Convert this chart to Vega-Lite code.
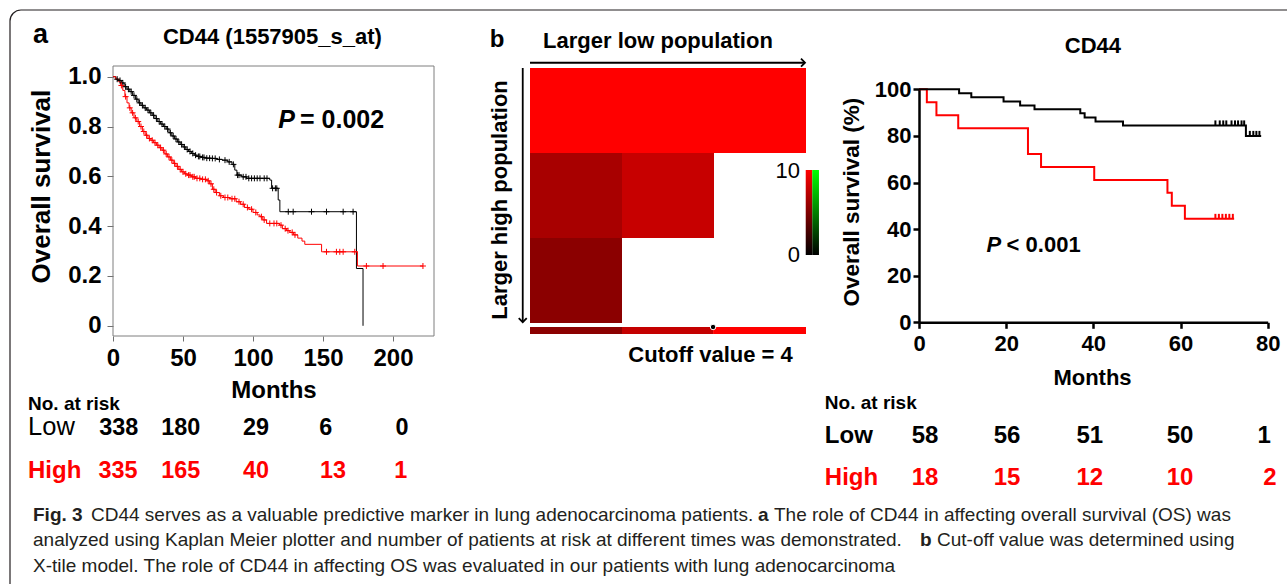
{
  "$schema": "https://vega.github.io/schema/vega-lite/v6.json",
  "width": 1287,
  "height": 584,
  "autosize": {"type": "none"},
  "padding": 0,
  "background": "white",
  "config": {"view": {"stroke": null}, "font": "Liberation Sans"},
  "datasets": {
    "kmA": [
      {"t":0,"s":1,"g":"Low"},{"t":2,"s":0.99,"g":"Low"},{"t":4,"s":0.985,"g":"Low"},{"t":6,"s":0.975,"g":"Low"},{"t":8,"s":0.96,"g":"Low"},{"t":10,"s":0.95,"g":"Low"},{"t":12,"s":0.94,"g":"Low"},{"t":14,"s":0.925,"g":"Low"},{"t":16,"s":0.91,"g":"Low"},{"t":18,"s":0.895,"g":"Low"},{"t":20,"s":0.885,"g":"Low"},{"t":22,"s":0.875,"g":"Low"},{"t":24,"s":0.866,"g":"Low"},{"t":26,"s":0.855,"g":"Low"},{"t":28,"s":0.845,"g":"Low"},{"t":30,"s":0.832,"g":"Low"},{"t":32,"s":0.82,"g":"Low"},{"t":34,"s":0.81,"g":"Low"},{"t":36,"s":0.8,"g":"Low"},{"t":38,"s":0.79,"g":"Low"},{"t":40,"s":0.775,"g":"Low"},{"t":42,"s":0.762,"g":"Low"},{"t":44,"s":0.75,"g":"Low"},{"t":46,"s":0.738,"g":"Low"},{"t":48,"s":0.728,"g":"Low"},{"t":50,"s":0.718,"g":"Low"},{"t":52,"s":0.708,"g":"Low"},{"t":54,"s":0.7,"g":"Low"},{"t":56,"s":0.692,"g":"Low"},{"t":58,"s":0.685,"g":"Low"},{"t":60,"s":0.68,"g":"Low"},{"t":63,"s":0.676,"g":"Low"},{"t":66,"s":0.673,"g":"Low"},{"t":70,"s":0.672,"g":"Low"},{"t":74,"s":0.668,"g":"Low"},{"t":78,"s":0.665,"g":"Low"},{"t":82,"s":0.658,"g":"Low"},{"t":85,"s":0.648,"g":"Low"},{"t":87,"s":0.625,"g":"Low"},{"t":88.5,"s":0.605,"g":"Low"},{"t":92,"s":0.598,"g":"Low"},{"t":95.5,"s":0.592,"g":"Low"},{"t":112,"s":0.585,"g":"Low"},{"t":113.3,"s":0.552,"g":"Low"},{"t":118,"s":0.505,"g":"Low"},{"t":119.2,"s":0.458,"g":"Low"},{"t":173.9,"s":0.23,"g":"Low"},{"t":178.6,"s":0,"g":"Low"},
      {"t":0,"s":1,"g":"High"},{"t":2,"s":0.99,"g":"High"},{"t":4,"s":0.98,"g":"High"},{"t":5.5,"s":0.965,"g":"High"},{"t":7,"s":0.945,"g":"High"},{"t":8.5,"s":0.92,"g":"High"},{"t":10,"s":0.895,"g":"High"},{"t":11.5,"s":0.875,"g":"High"},{"t":13,"s":0.855,"g":"High"},{"t":15,"s":0.835,"g":"High"},{"t":17,"s":0.82,"g":"High"},{"t":19,"s":0.8,"g":"High"},{"t":21,"s":0.78,"g":"High"},{"t":23,"s":0.765,"g":"High"},{"t":25,"s":0.752,"g":"High"},{"t":27,"s":0.745,"g":"High"},{"t":29,"s":0.735,"g":"High"},{"t":31,"s":0.725,"g":"High"},{"t":33,"s":0.715,"g":"High"},{"t":35,"s":0.705,"g":"High"},{"t":37,"s":0.69,"g":"High"},{"t":39,"s":0.678,"g":"High"},{"t":41,"s":0.665,"g":"High"},{"t":43,"s":0.652,"g":"High"},{"t":45,"s":0.64,"g":"High"},{"t":47,"s":0.628,"g":"High"},{"t":49,"s":0.618,"g":"High"},{"t":51,"s":0.61,"g":"High"},{"t":53,"s":0.605,"g":"High"},{"t":56,"s":0.598,"g":"High"},{"t":59,"s":0.592,"g":"High"},{"t":63,"s":0.588,"g":"High"},{"t":67,"s":0.582,"g":"High"},{"t":69,"s":0.57,"g":"High"},{"t":71,"s":0.548,"g":"High"},{"t":73,"s":0.535,"g":"High"},{"t":76,"s":0.522,"g":"High"},{"t":79,"s":0.515,"g":"High"},{"t":83,"s":0.51,"g":"High"},{"t":88,"s":0.498,"g":"High"},{"t":91,"s":0.488,"g":"High"},{"t":94,"s":0.475,"g":"High"},{"t":97,"s":0.468,"g":"High"},{"t":100,"s":0.455,"g":"High"},{"t":103,"s":0.445,"g":"High"},{"t":105,"s":0.438,"g":"High"},{"t":107,"s":0.425,"g":"High"},{"t":109.7,"s":0.411,"g":"High"},{"t":119,"s":0.404,"g":"High"},{"t":121,"s":0.39,"g":"High"},{"t":124,"s":0.382,"g":"High"},{"t":126.3,"s":0.375,"g":"High"},{"t":129,"s":0.365,"g":"High"},{"t":132,"s":0.352,"g":"High"},{"t":135,"s":0.34,"g":"High"},{"t":137,"s":0.327,"g":"High"},{"t":149,"s":0.297,"g":"High"},{"t":174.6,"s":0.24,"g":"High"},{"t":221.4,"s":0.24,"g":"High"}
    ],
    "censA": [
      {"t":3,"s":0.99,"g":"Low"},{"t":5,"s":0.985,"g":"Low"},{"t":7,"s":0.975,"g":"Low"},{"t":9,"s":0.96,"g":"Low"},{"t":11,"s":0.95,"g":"Low"},{"t":13,"s":0.94,"g":"Low"},{"t":15,"s":0.925,"g":"Low"},{"t":17,"s":0.91,"g":"Low"},{"t":19,"s":0.895,"g":"Low"},{"t":21,"s":0.885,"g":"Low"},{"t":23,"s":0.875,"g":"Low"},{"t":25,"s":0.866,"g":"Low"},{"t":27,"s":0.855,"g":"Low"},{"t":29,"s":0.845,"g":"Low"},{"t":31,"s":0.832,"g":"Low"},{"t":33,"s":0.82,"g":"Low"},{"t":35,"s":0.81,"g":"Low"},{"t":37,"s":0.8,"g":"Low"},{"t":39,"s":0.79,"g":"Low"},{"t":41,"s":0.775,"g":"Low"},{"t":43,"s":0.762,"g":"Low"},{"t":45,"s":0.75,"g":"Low"},{"t":47,"s":0.738,"g":"Low"},{"t":49,"s":0.728,"g":"Low"},{"t":51,"s":0.718,"g":"Low"},{"t":53,"s":0.708,"g":"Low"},{"t":55,"s":0.7,"g":"Low"},{"t":57,"s":0.692,"g":"Low"},{"t":59,"s":0.685,"g":"Low"},{"t":61,"s":0.68,"g":"Low"},{"t":62,"s":0.68,"g":"Low"},{"t":64,"s":0.676,"g":"Low"},{"t":65,"s":0.676,"g":"Low"},{"t":67,"s":0.673,"g":"Low"},{"t":69,"s":0.673,"g":"Low"},{"t":71,"s":0.672,"g":"Low"},{"t":73,"s":0.672,"g":"Low"},{"t":76,"s":0.668,"g":"Low"},{"t":80,"s":0.665,"g":"Low"},{"t":83,"s":0.658,"g":"Low"},{"t":86,"s":0.648,"g":"Low"},{"t":89,"s":0.605,"g":"Low"},{"t":90,"s":0.605,"g":"Low"},{"t":93,"s":0.598,"g":"Low"},{"t":95,"s":0.598,"g":"Low"},{"t":97,"s":0.592,"g":"Low"},{"t":99,"s":0.592,"g":"Low"},{"t":101,"s":0.592,"g":"Low"},{"t":103,"s":0.592,"g":"Low"},{"t":105,"s":0.592,"g":"Low"},{"t":108,"s":0.592,"g":"Low"},{"t":110,"s":0.592,"g":"Low"},{"t":114,"s":0.552,"g":"Low"},{"t":116,"s":0.552,"g":"Low"},{"t":117,"s":0.552,"g":"Low"},{"t":125.2,"s":0.458,"g":"Low"},{"t":128.7,"s":0.458,"g":"Low"},{"t":141.8,"s":0.458,"g":"Low"},{"t":152.5,"s":0.458,"g":"Low"},{"t":164.4,"s":0.458,"g":"Low"},{"t":171.5,"s":0.458,"g":"Low"},
      {"t":6,"s":0.965,"g":"High"},{"t":9,"s":0.92,"g":"High"},{"t":12,"s":0.875,"g":"High"},{"t":14,"s":0.855,"g":"High"},{"t":16,"s":0.835,"g":"High"},{"t":18,"s":0.82,"g":"High"},{"t":20,"s":0.8,"g":"High"},{"t":22,"s":0.78,"g":"High"},{"t":24,"s":0.765,"g":"High"},{"t":26,"s":0.752,"g":"High"},{"t":28,"s":0.745,"g":"High"},{"t":30,"s":0.735,"g":"High"},{"t":32,"s":0.725,"g":"High"},{"t":34,"s":0.715,"g":"High"},{"t":36,"s":0.705,"g":"High"},{"t":38,"s":0.69,"g":"High"},{"t":40,"s":0.678,"g":"High"},{"t":42,"s":0.665,"g":"High"},{"t":44,"s":0.652,"g":"High"},{"t":46,"s":0.64,"g":"High"},{"t":48,"s":0.628,"g":"High"},{"t":50,"s":0.618,"g":"High"},{"t":52,"s":0.61,"g":"High"},{"t":54,"s":0.605,"g":"High"},{"t":55,"s":0.605,"g":"High"},{"t":57,"s":0.598,"g":"High"},{"t":58,"s":0.598,"g":"High"},{"t":60,"s":0.592,"g":"High"},{"t":62,"s":0.592,"g":"High"},{"t":64,"s":0.588,"g":"High"},{"t":66,"s":0.588,"g":"High"},{"t":68,"s":0.582,"g":"High"},{"t":70,"s":0.57,"g":"High"},{"t":72,"s":0.548,"g":"High"},{"t":74,"s":0.535,"g":"High"},{"t":77,"s":0.522,"g":"High"},{"t":80,"s":0.515,"g":"High"},{"t":82,"s":0.515,"g":"High"},{"t":85,"s":0.51,"g":"High"},{"t":87,"s":0.51,"g":"High"},{"t":90,"s":0.498,"g":"High"},{"t":93,"s":0.488,"g":"High"},{"t":96,"s":0.475,"g":"High"},{"t":99,"s":0.468,"g":"High"},{"t":102,"s":0.455,"g":"High"},{"t":106,"s":0.438,"g":"High"},{"t":108,"s":0.425,"g":"High"},{"t":112,"s":0.411,"g":"High"},{"t":115,"s":0.411,"g":"High"},{"t":117,"s":0.411,"g":"High"},{"t":120,"s":0.404,"g":"High"},{"t":123,"s":0.39,"g":"High"},{"t":125,"s":0.382,"g":"High"},{"t":128,"s":0.375,"g":"High"},{"t":130,"s":0.365,"g":"High"},{"t":152.5,"s":0.297,"g":"High"},{"t":159.6,"s":0.297,"g":"High"},{"t":162,"s":0.297,"g":"High"},{"t":164.4,"s":0.297,"g":"High"},{"t":172.7,"s":0.297,"g":"High"},{"t":181,"s":0.24,"g":"High"},{"t":192.9,"s":0.24,"g":"High"},{"t":221.4,"s":0.24,"g":"High"}
    ],
    "riskA": [
      {"t":4.1,"s":-0.438,"n":"338","g":"Low"},{"t":48.4,"s":-0.438,"n":"180","g":"Low"},{"t":102.1,"s":-0.438,"n":"29","g":"Low"},{"t":151.9,"s":-0.438,"n":"6","g":"Low"},{"t":206.4,"s":-0.438,"n":"0","g":"Low"},
      {"t":3.6,"s":-0.611,"n":"335","g":"High"},{"t":48.4,"s":-0.611,"n":"165","g":"High"},{"t":102.1,"s":-0.611,"n":"40","g":"High"},{"t":157.1,"s":-0.611,"n":"13","g":"High"},{"t":205.6,"s":-0.611,"n":"1","g":"High"}
    ],
    "kmC": [
      {"t":0,"s":100,"g":"High"},{"t":1.8,"s":94.4,"g":"High"},{"t":4,"s":88.9,"g":"High"},{"t":9,"s":83.3,"g":"High"},{"t":25,"s":72.2,"g":"High"},{"t":28,"s":66.7,"g":"High"},{"t":40.2,"s":61.1,"g":"High"},{"t":57,"s":55.6,"g":"High"},{"t":58,"s":50,"g":"High"},{"t":61,"s":44.4,"g":"High"},{"t":72.3,"s":44.4,"g":"High"},
      {"t":0,"s":100,"g":"Low"},{"t":9.2,"s":98.3,"g":"Low"},{"t":12,"s":96.6,"g":"Low"},{"t":19.4,"s":94.8,"g":"Low"},{"t":23.2,"s":93.1,"g":"Low"},{"t":26.5,"s":91.4,"g":"Low"},{"t":37,"s":89.7,"g":"Low"},{"t":38,"s":87.9,"g":"Low"},{"t":40.5,"s":86.2,"g":"Low"},{"t":46.8,"s":84.5,"g":"Low"},{"t":75,"s":80,"g":"Low"},{"t":78.5,"s":80,"g":"Low"}
    ],
    "censC": [
      {"t":68,"s":44.4,"g":"High"},{"t":68.8,"s":44.4,"g":"High"},{"t":69.6,"s":44.4,"g":"High"},{"t":70.4,"s":44.4,"g":"High"},{"t":71.2,"s":44.4,"g":"High"},{"t":72,"s":44.4,"g":"High"},
      {"t":68,"s":84.5,"g":"Low"},{"t":69,"s":84.5,"g":"Low"},{"t":69.8,"s":84.5,"g":"Low"},{"t":70.5,"s":84.5,"g":"Low"},{"t":71.7,"s":84.5,"g":"Low"},{"t":72.5,"s":84.5,"g":"Low"},{"t":73.2,"s":84.5,"g":"Low"},{"t":74,"s":84.5,"g":"Low"},{"t":74.6,"s":84.5,"g":"Low"},{"t":75.9,"s":80,"g":"Low"},{"t":76.7,"s":80,"g":"Low"},{"t":77.4,"s":80,"g":"Low"},{"t":78.1,"s":80,"g":"Low"}
    ],
    "riskC": [
      {"t":1.4,"s":-51.8,"n":"58","g":"Low"},{"t":20.2,"s":-51.8,"n":"56","g":"Low"},{"t":39.2,"s":-51.8,"n":"51","g":"Low"},{"t":59.9,"s":-51.8,"n":"50","g":"Low"},{"t":79.2,"s":-51.8,"n":"1","g":"Low"},
      {"t":1.4,"s":-69.8,"n":"18","g":"High"},{"t":20.2,"s":-69.8,"n":"15","g":"High"},{"t":39.2,"s":-69.8,"n":"12","g":"High"},{"t":59.9,"s":-69.8,"n":"10","g":"High"},{"t":80.5,"s":-69.8,"n":"2","g":"High"}
    ],
    "heat": [
      {"c":0,"c2":1,"r":0,"r2":1,"v":10},{"c":1,"c2":2,"r":0,"r2":1,"v":10},{"c":2,"c2":3,"r":0,"r2":1,"v":10},
      {"c":0,"c2":1,"r":1,"r2":2,"v":6.6},{"c":1,"c2":2,"r":1,"r2":2,"v":7.8},
      {"c":0,"c2":1,"r":2,"r2":3,"v":5.45},
      {"c":0,"c2":1,"r":3.047,"r2":3.13,"v":5.45},{"c":1,"c2":1.99,"r":3.047,"r2":3.13,"v":7.7},{"c":1.99,"c2":3,"r":3.047,"r2":3.13,"v":10}
    ]
  },
  "resolve": {
    "scale": {"x": "independent", "y": "independent", "color": "independent"},
    "axis": {"x": "independent", "y": "independent"}
  },
  "layer": [
    {
      "encoding": {
        "x": {"field": "fx", "type": "quantitative", "scale": {"domain": [0, 1], "range": [10, 1300], "nice": false, "zero": false}, "axis": null},
        "y": {"field": "fy", "type": "quantitative", "scale": {"domain": [0, 1], "range": [10, 600], "nice": false, "zero": false}, "axis": null}
      },
      "layer": [
        {
          "data": {"values": [{"fx": 0, "fy": 0, "fx2": 1, "fy2": 1}]},
          "mark": {"type": "rect", "filled": false, "color": "#231f20", "strokeWidth": 1.2, "cornerRadius": 11},
          "encoding": {"x2": {"field": "fx2"}, "y2": {"field": "fy2"}}
        },
        {
          "data": {"values": [
            {"fx": 0.06279, "fy": 0.8653, "label": "CD44 serves as a valuable predictive marker in lung adenocarcinoma patients."},
            {"fx": 0.59225, "fy": 0.8653, "label": "The role of CD44 in affecting overall survival (OS) was"},
            {"fx": 0.01783, "fy": 0.9085, "label": "analyzed using Kaplan Meier plotter and number of patients at risk at different times was demonstrated."},
            {"fx": 0.71860, "fy": 0.9085, "label": "Cut-off value was determined using"},
            {"fx": 0.01783, "fy": 0.9517, "label": "X-tile model. The role of CD44 in affecting OS was evaluated in our patients with lung adenocarcinoma"}
          ]},
          "mark": {"type": "text", "align": "left", "baseline": "alphabetic", "fontSize": 19, "color": "#231f20"},
          "encoding": {"text": {"field": "label"}}
        },
        {
          "data": {"values": [
            {"fx": 0.01783, "fy": 0.8653, "label": "Fig. 3"},
            {"fx": 0.57984, "fy": 0.8653, "label": "a"},
            {"fx": 0.70543, "fy": 0.9085, "label": "b"}
          ]},
          "mark": {"type": "text", "align": "left", "baseline": "alphabetic", "fontSize": 19, "fontWeight": "bold", "color": "#231f20"},
          "encoding": {"text": {"field": "label"}}
        }
      ]
    },
    {
      "encoding": {
        "x": {"field": "t", "type": "quantitative",
              "scale": {"domain": [0, 229.3], "range": [113, 434], "nice": false, "zero": false},
              "axis": {"orient": "bottom", "offset": -248, "values": [0, 50, 100, 150, 200], "domain": false, "grid": false, "tickSize": 5, "tickColor": "#6f6f6f", "tickWidth": 1, "labelFontSize": 24, "labelFontWeight": "bold", "labelColor": "#000000", "labelPadding": 5, "labelFlush": false, "labelOverlap": false, "title": null}},
        "y": {"field": "s", "type": "quantitative",
              "scale": {"domain": [-0.041, 1.043], "range": [336, 66], "nice": false, "zero": false},
              "axis": {"orient": "left", "offset": -113, "values": [0, 0.2, 0.4, 0.6, 0.8, 1], "labelExpr": "datum.value == 0 ? '0' : format(datum.value, '.1f')", "domain": false, "grid": false, "tickSize": 6, "tickColor": "#6f6f6f", "tickWidth": 1, "labelFontSize": 24, "labelFontWeight": "bold", "labelColor": "#000000", "labelPadding": 6, "labelFlush": false, "labelOverlap": false, "title": null}}
      },
      "layer": [
        {
          "data": {"values": [{"t": 0, "s": -0.041, "t2": 229.3, "s2": 1.043}]},
          "mark": {"type": "rect", "filled": false, "color": "#7f7f7f", "strokeWidth": 1},
          "encoding": {"x2": {"field": "t2"}, "y2": {"field": "s2"}}
        },
        {
          "data": {"name": "kmA"},
          "mark": {"type": "line", "interpolate": "step-after", "strokeWidth": 1},
          "encoding": {"color": {"field": "g", "type": "nominal", "scale": {"domain": ["Low", "High"], "range": ["#000000", "#ff0000"]}, "legend": null}}
        },
        {
          "data": {"name": "censA"},
          "mark": {"type": "point", "shape": "M-1,0H1M0,-1V1", "filled": false, "size": 36, "strokeWidth": 1, "opacity": 1},
          "encoding": {"color": {"field": "g", "type": "nominal", "scale": {"domain": ["Low", "High"], "range": ["#000000", "#ff0000"]}, "legend": null}}
        },
        {
          "data": {"name": "riskA"},
          "mark": {"type": "text", "align": "center", "baseline": "alphabetic", "fontSize": 23.4, "fontWeight": "bold"},
          "encoding": {"text": {"field": "n"}, "color": {"field": "g", "type": "nominal", "scale": {"domain": ["Low", "High"], "range": ["#000000", "#ff0000"]}, "legend": null}}
        },
        {
          "data": {"values": [{"t": -51.8, "s": 1.135, "label": "a"}]},
          "mark": {"type": "text", "align": "center", "baseline": "alphabetic", "fontSize": 27, "fontWeight": "bold", "color": "#000000"},
          "encoding": {"text": {"field": "label"}}
        },
        {
          "data": {"values": [{"t": 113.9, "s": 1.131, "label": "CD44 (1557905_s_at)"}]},
          "mark": {"type": "text", "align": "center", "baseline": "alphabetic", "fontSize": 22, "fontWeight": "bold", "color": "#000000"},
          "encoding": {"text": {"field": "label"}}
        },
        {
          "data": {"values": [{"t": 118.1, "s": 0.793, "label": "P"}]},
          "mark": {"type": "text", "align": "left", "baseline": "alphabetic", "fontSize": 25, "fontWeight": "bold", "fontStyle": "italic", "color": "#000000"},
          "encoding": {"text": {"field": "label"}}
        },
        {
          "data": {"values": [{"t": 133.6, "s": 0.793, "label": "= 0.002"}]},
          "mark": {"type": "text", "align": "left", "baseline": "alphabetic", "fontSize": 25, "fontWeight": "bold", "color": "#000000"},
          "encoding": {"text": {"field": "label"}}
        },
        {
          "data": {"values": [{"t": -45, "s": 0.559, "label": "Overall survival"}]},
          "mark": {"type": "text", "align": "center", "baseline": "alphabetic", "angle": 270, "fontSize": 26, "fontWeight": "bold", "color": "#000000"},
          "encoding": {"text": {"field": "label"}}
        },
        {
          "data": {"values": [{"t": 115, "s": -0.29, "label": "Months"}]},
          "mark": {"type": "text", "align": "center", "baseline": "alphabetic", "fontSize": 24, "fontWeight": "bold", "color": "#000000"},
          "encoding": {"text": {"field": "label"}}
        },
        {
          "data": {"values": [{"t": -60.7, "s": -0.338, "label": "No. at risk"}]},
          "mark": {"type": "text", "align": "left", "baseline": "alphabetic", "fontSize": 19, "fontWeight": "bold", "color": "#000000"},
          "encoding": {"text": {"field": "label"}}
        },
        {
          "data": {"values": [{"t": -60.7, "s": -0.438, "label": "Low"}]},
          "mark": {"type": "text", "align": "left", "baseline": "alphabetic", "fontSize": 25.5, "color": "#000000"},
          "encoding": {"text": {"field": "label"}}
        },
        {
          "data": {"values": [{"t": -60.7, "s": -0.611, "label": "High"}]},
          "mark": {"type": "text", "align": "left", "baseline": "alphabetic", "fontSize": 24, "fontWeight": "bold", "color": "#ff0000"},
          "encoding": {"text": {"field": "label"}}
        }
      ]
    },
    {
      "encoding": {
        "x": {"field": "c", "type": "quantitative", "scale": {"domain": [0, 3], "range": [530, 806], "nice": false, "zero": false}, "axis": null},
        "y": {"field": "r", "type": "quantitative", "scale": {"domain": [0, 3], "range": [68, 323], "nice": false, "zero": false}, "axis": null}
      },
      "layer": [
        {
          "data": {"name": "heat"},
          "mark": {"type": "rect"},
          "encoding": {
            "x2": {"field": "c2"},
            "y2": {"field": "r2"},
            "color": {"field": "v", "type": "quantitative", "scale": {"domain": [0, 10], "range": ["#000000", "#ff0000"], "interpolate": "rgb"}, "legend": null}
          }
        },
        {
          "data": {"values": [{"c": 2.997, "c2": 3.068, "r": 1.2, "r2": 2.2}]},
          "mark": {"type": "rect", "fill": {"gradient": "linear", "x1": 0, "y1": 0, "x2": 0, "y2": 1, "stops": [{"offset": 0, "color": "#ff0000"}, {"offset": 1, "color": "#000000"}]}},
          "encoding": {"x2": {"field": "c2"}, "y2": {"field": "r2"}}
        },
        {
          "data": {"values": [{"c": 3.068, "c2": 3.141, "r": 1.2, "r2": 2.2}]},
          "mark": {"type": "rect", "fill": {"gradient": "linear", "x1": 0, "y1": 0, "x2": 0, "y2": 1, "stops": [{"offset": 0, "color": "#00ff00"}, {"offset": 1, "color": "#000000"}]}},
          "encoding": {"x2": {"field": "c2"}, "y2": {"field": "r2"}}
        },
        {
          "data": {"values": [{"c": 1.99, "r": 3.047}]},
          "mark": {"type": "point", "filled": true, "color": "#000000", "stroke": "#ffffff", "strokeWidth": 1, "size": 30, "opacity": 1}
        },
        {
          "data": {"values": [{"c": 0, "c2": 2.989, "r": -0.062}]},
          "mark": {"type": "rule", "color": "#000000", "strokeWidth": 1.8},
          "encoding": {"x2": {"field": "c2"}}
        },
        {
          "data": {"values": [{"c": -0.079, "r": 0, "r2": 2.99}]},
          "mark": {"type": "rule", "color": "#000000", "strokeWidth": 1.8},
          "encoding": {"y2": {"field": "r2"}}
        },
        {
          "data": {"values": [{"c": 2.989, "r": -0.062}]},
          "mark": {"type": "point", "shape": "M-1,-1L0,0L-1,1", "filled": false, "color": "#000000", "strokeWidth": 1.8, "size": 64, "opacity": 1}
        },
        {
          "data": {"values": [{"c": -0.079, "r": 2.99}]},
          "mark": {"type": "point", "shape": "M-1,-1L0,0L1,-1", "filled": false, "color": "#000000", "strokeWidth": 1.8, "size": 64, "opacity": 1}
        },
        {
          "data": {"values": [{"c": -0.359, "r": -0.247, "label": "b"}]},
          "mark": {"type": "text", "align": "center", "baseline": "alphabetic", "fontSize": 24, "fontWeight": "bold", "color": "#000000"},
          "encoding": {"text": {"field": "label"}}
        },
        {
          "data": {"values": [{"c": 1.391, "r": -0.232, "label": "Larger low population"}, {"c": 1.962, "r": 3.453, "label": "Cutoff value = 4"}]},
          "mark": {"type": "text", "align": "center", "baseline": "alphabetic", "fontSize": 22, "fontWeight": "bold", "color": "#000000"},
          "encoding": {"text": {"field": "label"}}
        },
        {
          "data": {"values": [{"c": -0.245, "r": 1.553, "label": "Larger high population"}]},
          "mark": {"type": "text", "align": "center", "baseline": "alphabetic", "angle": 270, "fontSize": 22, "fontWeight": "bold", "color": "#000000"},
          "encoding": {"text": {"field": "label"}}
        },
        {
          "data": {"values": [{"c": 2.935, "r": 1.294, "label": "10"}, {"c": 2.935, "r": 2.282, "label": "0"}]},
          "mark": {"type": "text", "align": "right", "baseline": "alphabetic", "fontSize": 22, "color": "#000000"},
          "encoding": {"text": {"field": "label"}}
        }
      ]
    },
    {
      "encoding": {
        "x": {"field": "t", "type": "quantitative",
              "scale": {"domain": [0, 80], "range": [919, 1267.7], "nice": false, "zero": false},
              "axis": {"orient": "bottom", "offset": -261.7, "values": [0, 20, 40, 60, 80], "domain": true, "domainColor": "#000000", "domainWidth": 2.5, "grid": false, "tickSize": 6, "tickColor": "#000000", "tickWidth": 2.5, "labelFontSize": 22, "labelFontWeight": "bold", "labelColor": "#000000", "labelPadding": 5, "labelFlush": false, "labelOverlap": false, "title": null}},
        "y": {"field": "s", "type": "quantitative",
              "scale": {"domain": [0, 100], "range": [322.3, 89.3], "nice": false, "zero": false},
              "axis": {"orient": "left", "offset": -919, "values": [0, 20, 40, 60, 80, 100], "domain": true, "domainColor": "#000000", "domainWidth": 2.5, "grid": false, "tickSize": 6, "tickColor": "#000000", "tickWidth": 2.5, "labelFontSize": 22, "labelFontWeight": "bold", "labelColor": "#000000", "labelPadding": 2, "labelFlush": false, "labelOverlap": false, "title": null}}
      },
      "layer": [
        {
          "data": {"name": "kmC"},
          "mark": {"type": "line", "interpolate": "step-after", "strokeWidth": 2},
          "encoding": {"color": {"field": "g", "type": "nominal", "scale": {"domain": ["Low", "High"], "range": ["#000000", "#ff0000"]}, "legend": null}, "order": {"field": "t"}}
        },
        {
          "data": {"name": "censC"},
          "mark": {"type": "point", "shape": "M0,0V-1", "filled": false, "size": 100, "strokeWidth": 2, "opacity": 1},
          "encoding": {"color": {"field": "g", "type": "nominal", "scale": {"domain": ["Low", "High"], "range": ["#000000", "#ff0000"]}, "legend": null}}
        },
        {
          "data": {"name": "riskC"},
          "mark": {"type": "text", "align": "center", "baseline": "alphabetic", "fontSize": 24, "fontWeight": "bold"},
          "encoding": {"text": {"field": "n"}, "color": {"field": "g", "type": "nominal", "scale": {"domain": ["Low", "High"], "range": ["#000000", "#ff0000"]}, "legend": null}}
        },
        {
          "data": {"values": [{"t": 39.9, "s": 115.6, "label": "CD44"}, {"t": 39.8, "s": -26.9, "label": "Months"}]},
          "mark": {"type": "text", "align": "center", "baseline": "alphabetic", "fontSize": 22, "fontWeight": "bold", "color": "#000000"},
          "encoding": {"text": {"field": "label"}}
        },
        {
          "data": {"values": [{"t": -13.8, "s": 51.6, "label": "Overall survival (%)"}]},
          "mark": {"type": "text", "align": "center", "baseline": "alphabetic", "angle": 270, "fontSize": 22.5, "fontWeight": "bold", "color": "#000000"},
          "encoding": {"text": {"field": "label"}}
        },
        {
          "data": {"values": [{"t": 15.5, "s": 30.3, "label": "P"}]},
          "mark": {"type": "text", "align": "left", "baseline": "alphabetic", "fontSize": 22, "fontWeight": "bold", "fontStyle": "italic", "color": "#000000"},
          "encoding": {"text": {"field": "label"}}
        },
        {
          "data": {"values": [{"t": 20.1, "s": 30.3, "label": "< 0.001"}]},
          "mark": {"type": "text", "align": "left", "baseline": "alphabetic", "fontSize": 22, "fontWeight": "bold", "color": "#000000"},
          "encoding": {"text": {"field": "label"}}
        },
        {
          "data": {"values": [{"t": -21.6, "s": -37.2, "label": "No. at risk"}]},
          "mark": {"type": "text", "align": "left", "baseline": "alphabetic", "fontSize": 19, "fontWeight": "bold", "color": "#000000"},
          "encoding": {"text": {"field": "label"}}
        },
        {
          "data": {"values": [{"t": -21.6, "s": -51.8, "label": "Low"}]},
          "mark": {"type": "text", "align": "left", "baseline": "alphabetic", "fontSize": 24, "fontWeight": "bold", "color": "#000000"},
          "encoding": {"text": {"field": "label"}}
        },
        {
          "data": {"values": [{"t": -21.6, "s": -69.8, "label": "High"}]},
          "mark": {"type": "text", "align": "left", "baseline": "alphabetic", "fontSize": 24, "fontWeight": "bold", "color": "#ff0000"},
          "encoding": {"text": {"field": "label"}}
        }
      ]
    }
  ]
}
